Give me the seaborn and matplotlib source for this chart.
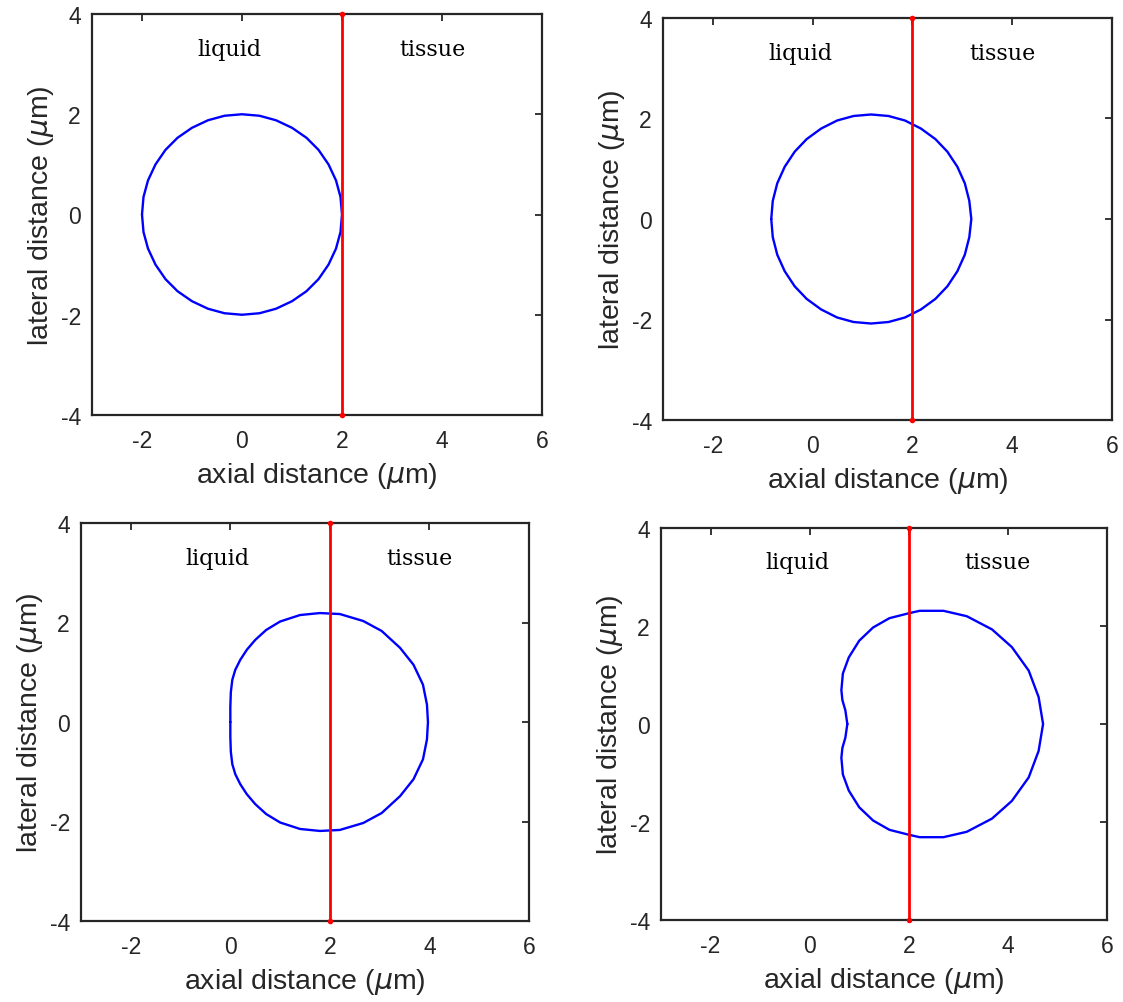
import numpy as np
import pandas as pd
import matplotlib
matplotlib.use("Agg")
import matplotlib.pyplot as plt
import seaborn as sns

# upper half of each bubble outline (left tip -> top -> right tip), mirrored for the lower half
circle_x = [-2, -1.97, -1.88, -1.73, -1.53, -1.29, -1.0, -0.68, -0.35, 0,
            0.35, 0.68, 1.0, 1.29, 1.53, 1.73, 1.88, 1.97, 2]
circle_y = [0, 0.35, 0.68, 1.0, 1.29, 1.53, 1.73, 1.88, 1.97, 2,
            1.97, 1.88, 1.73, 1.53, 1.29, 1.0, 0.68, 0.35, 0]

early_x = [-0.83, -0.80, -0.71, -0.56, -0.36, -0.12, 0.17, 0.49, 0.82, 1.17,
           1.52, 1.85, 2.17, 2.46, 2.70, 2.90, 3.05, 3.14, 3.18]
early_y = [0, 0.36, 0.71, 1.04, 1.34, 1.59, 1.80, 1.96, 2.05, 2.08,
           2.05, 1.96, 1.80, 1.59, 1.34, 1.04, 0.71, 0.36, 0]

mid_x = [0.0, 0.0, 0.01, 0.04, 0.10, 0.20, 0.33, 0.50, 0.72, 1.0, 1.4, 1.8,
         2.2, 2.67, 3.04, 3.41, 3.68, 3.87, 3.95, 3.97]
mid_y = [0, 0.3, 0.6, 0.85, 1.05, 1.25, 1.45, 1.65, 1.85, 2.02, 2.15, 2.19,
         2.17, 2.03, 1.83, 1.49, 1.15, 0.75, 0.35, 0]

late_x = [0.76, 0.72, 0.66, 0.64, 0.67, 0.79, 1.0, 1.28, 1.61, 2.0, 2.22,
          2.7, 3.17, 3.68, 4.08, 4.42, 4.62, 4.71]
late_y = [0, 0.28, 0.49, 0.69, 1.03, 1.36, 1.70, 1.97, 2.16, 2.26, 2.31,
          2.31, 2.20, 1.93, 1.57, 1.09, 0.55, 0]

boundary_x = [2, 2]
boundary_y = [-4, 4]
region_labels = ["liquid", "tissue"]

xticks = [-2, 0, 2, 4, 6]
yticks = [-4, -2, 0, 2, 4]


def outline(xs, ys):
    xs = np.asarray(xs, float)
    ys = np.asarray(ys, float)
    full_x = np.concatenate([xs, xs[::-1][1:]])
    full_y = np.concatenate([ys, -ys[::-1][1:]])
    return pd.DataFrame({"x": full_x, "y": full_y})


sns.set_style("white")
plt.rcParams["font.family"] = ["Liberation Sans", "DejaVu Sans"]
plt.rcParams["mathtext.fontset"] = "dejavusans"
plt.rcParams["axes.unicode_minus"] = False

W, H = 1123, 1003
fig = plt.figure(figsize=(W / 100, H / 100), dpi=100)

# axes boxes in pixels: left, right, top, bottom
boxes = [(92, 542, 15, 416), (663, 1112, 19, 421),
         (81, 529, 524, 922), (661, 1107, 529, 921)]
shapes = [(circle_x, circle_y), (early_x, early_y), (mid_x, mid_y), (late_x, late_y)]

for (l, r, t, b), (sx, sy) in zip(boxes, shapes):
    ax = fig.add_axes([l / W, (H - b) / H, (r - l) / W, (b - t) / H])
    df = outline(sx, sy)
    sns.lineplot(data=df, x="x", y="y", sort=False, estimator=None,
                 color="#0000ff", lw=1.7, ax=ax)
    sns.lineplot(x=boundary_x, y=boundary_y, sort=False, estimator=None,
                 color="#ff0000", lw=2.0, marker="o", markersize=4,
                 markeredgewidth=0, ax=ax, clip_on=False, zorder=5)
    ax.text(-0.25, 3.3, region_labels[0], ha="center", va="center",
            family="DejaVu Serif", fontsize=16, color="black")
    ax.text(3.8, 3.3, region_labels[1], ha="center", va="center",
            family="DejaVu Serif", fontsize=16, color="black")
    ax.set_xlim(-3, 6)
    ax.set_ylim(-4, 4)
    ax.set_xticks(xticks)
    ax.set_yticks(yticks)
    ax.tick_params(direction="in", length=5, width=1.3, top=True, right=True,
                   labelsize=16.5, colors="#262626")
    ax.tick_params(axis="x", pad=10)
    ax.tick_params(axis="y", pad=8)
    for sp in ax.spines.values():
        sp.set_visible(True)
        sp.set_linewidth(1.6)
        sp.set_color("#262626")
    ax.set_xlabel(r"axial distance ($\mu$m)", fontsize=20.5, color="#262626", labelpad=6)
    ax.set_ylabel(r"lateral distance ($\mu$m)", fontsize=20.5, color="#262626", labelpad=3)

fig.savefig("out.png", dpi=100, facecolor="white")
